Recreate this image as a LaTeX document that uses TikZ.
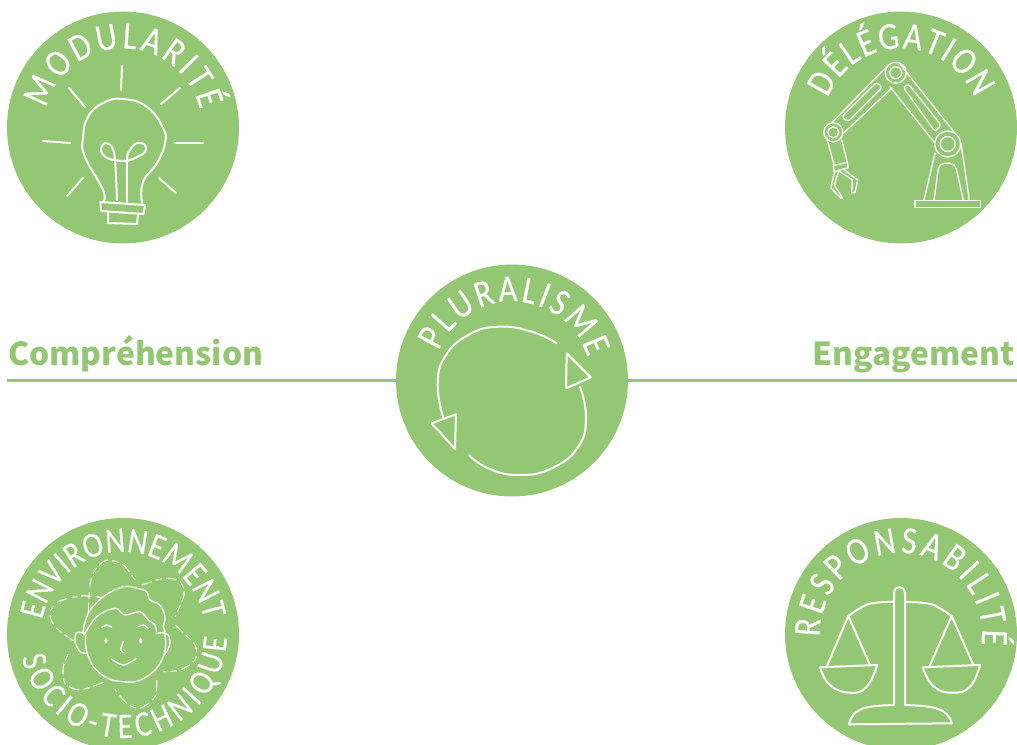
\documentclass[tikz,border=0pt]{standalone}
\usepackage{fontspec}
\usetikzlibrary{decorations.text}
\newfontfamily\Sfontfamily[FakeStretch=0.85,FakeBold=0.1]{Carlito}
\newfontfamily\Lfontfamily{Noto Sans CJK SC}
\definecolor{stampgreen}{HTML}{94C773}
\newcommand{\Sfont}{\Sfontfamily\fontsize{29}{29}\selectfont}
\newcommand{\Sfontsm}{\Sfontfamily\fontsize{27}{27}\selectfont}
% lettering on a circle round a stamp
\newcommand{\Sarc}[5]{\path[decorate,decoration={text along path,text align=fit to path,text color=white,text={#5}}] (#1.center) ++(#3:#2) arc[start angle=#3,end angle=#4,radius=#2];}
\tikzset{
  stamp/.style={circle,fill=stampgreen,minimum size=174pt,inner sep=0pt},
  axisline/.style={draw=stampgreen,line width=2.2pt},
  axislabel/.style={text=stampgreen,font=\Lfontfamily\bfseries\fontsize{23.8}{24}\selectfont,inner sep=0pt},
  icon/.style={draw=white,line width=1.5pt,line join=round,line cap=round},
  thinicon/.style={draw=white,line width=1pt,line join=round,line cap=round},
  petal/.style={draw=white,line width=0.8pt,dash pattern=on 8pt off 3pt on 5pt off 3pt}
}
\begin{document}
\begin{tikzpicture}[x=0.75pt,y=0.75pt]
\useasboundingbox (0,0) rectangle (1017,744);
\clip (0,0) rectangle (1017,744);
\begin{scope}[shift={(0,744)},yscale=-1]
\node (modularite) [stamp] at (123,127.5) {};
\node (delegation) [stamp] at (901,127.5) {};
\node (environnement) [stamp] at (123,634) {};
\node (responsabilite) [stamp] at (901,634) {};
\node (pluralisme) [stamp] at (512,380.5) {};
\coordinate (axisleft) at (7,380.5);
\coordinate (axisright) at (1017,380.5);
\path[axisline] (axisleft) edge (pluralisme);
\path[axisline] (pluralisme) edge (axisright);
\node (comprehension) [axislabel,anchor=base west] at (8,365) {Compréhension};
\node (engagement) [axislabel,anchor=base east] at (1015,365) {Engagement};
% bulb
\draw[icon] plot[smooth,tension=.8] coordinates {(103,202) (103,190) (85,157) (83,138) (88,117) (103,103) (123,99) (147,107) (163,128) (165,143) (157,163) (143,182) (142,203)};
\draw[icon] (100.5,202) -- (145,205) -- (143.5,214) -- (101,211) -- cycle;
\draw[icon] (108,213) -- (108,223) -- (137,224) -- (138,215);
\draw[icon] plot[smooth,tension=.6] coordinates {(117,200) (115,160) (112,147) (105,143) (101,150) (107,158) (123,161) (133,159) (145,152) (145,145) (137,143) (130,150) (127,160) (127,202)};
\draw[icon] (122,66) -- (121,90);
\draw[icon] (69,88) -- (85,107);
\draw[icon] (180,88) -- (161,104);
\draw[icon] (43,141) -- (70,143);
\draw[icon] (175,143) -- (203,143);
\draw[icon] (83,178) -- (67,196);
\draw[icon] (159,178) -- (176,193);
% robot arm
\draw[thinicon] (895.7,72.7) circle[radius=10.5] (895.7,72.7) circle[radius=6];
\draw[thinicon] (833.3,132.3) circle[radius=9.5] (833.3,132.3) circle[radius=5.5];
\draw[thinicon] (947.7,144) circle[radius=13] (947.7,144) circle[radius=7.5];
\draw[thinicon] (831.7,122.7) -- (886.7,66.7) (843.3,133.3) -- (891.7,88.3);
\draw[thinicon,rounded corners=2] (841.7,116.7) -- (876.7,82.3) -- (882.3,87.3) -- (847.7,121.7) -- cycle;
\draw[thinicon] (900,64) -- (955,133.3) (890,86.7) -- (935,143.3);
\draw[thinicon,rounded corners=2] (903.3,87.3) -- (908.3,84) -- (941,125) -- (935,131.7) -- cycle;
\draw[thinicon] (935,153.3) -- (924,200) (961,143.3) -- (969.3,200);
\draw[thinicon,rounded corners=4] (934,200) -- (939,163.3) -- (955,163.3) -- (963.3,200);
\draw[thinicon] (915,200.7) rectangle (980.7,207.3);
\draw[thinicon] (826.7,137.7) -- (834.3,165.7) (841.7,140) -- (847.3,162.3);
\draw[thinicon] (833.3,165.7) -- (847.3,162.3) -- (848.3,167.7) -- (834.3,171.7) -- cycle;
\draw[thinicon] (835,170.7) -- (830.7,187.7) -- (841,198.3) -- (842.3,197.7) -- (834.3,185) -- (839,170);
\draw[thinicon] (843.3,169.3) -- (857.7,180) -- (855,192.7) -- (851.7,192.7) -- (852.3,180) -- (840,171.7);
% scales
\draw[icon] (894,705) -- (894,593.3) .. controls (894,585) and (905,585) .. (905,593.3) -- (905,705);
\draw[icon] plot[smooth] coordinates {(894,601.7) (868.3,604) (848.3,616)};
\draw[icon] plot[smooth] coordinates {(905,601.7) (931.7,604.3) (951.7,616)};
\draw[icon] (826.7,666.7) -- (848.3,616) -- (870,665);
\draw[icon] (929.3,666.7) -- (951.7,616) -- (973.3,665);
\draw[icon] (820,667.3) -- (877.3,665);
\draw[icon] (922.7,667.3) -- (980,665);
\draw[icon] plot[smooth,tension=.8] coordinates {(820,667.3) (830,685) (850,692.7) (866.7,686.7) (877.3,665)};
\draw[icon] plot[smooth,tension=.8] coordinates {(922.7,667.3) (933.3,686) (951.7,692.7) (970,686.7) (980,665)};
\draw[icon] (894,705) .. controls (870,706) and (853,706) .. (849,724.3) -- (951.7,723.3) .. controls (948,707) and (930,706) .. (905,705);
% cycle
\draw[icon] plot[smooth,tension=.8] coordinates {(556.7,343.3) (531.7,331.7) (498.3,326.7) (468.3,335) (445,356.7) (437.7,385) (443.3,418.3)};
\draw[icon] (431.7,423.3) -- (456,414.3) -- (455,449) -- cycle;
\draw[icon] plot[smooth,tension=.8] coordinates {(580,386.7) (586,416.7) (578.3,446.7) (551.7,468.3) (518.3,475) (488.3,468.3) (469,455)};
\draw[icon] (566.7,353.3) -- (590.7,377.3) -- (566,388.3) -- cycle;
% face
\draw[thinicon] plot[smooth,tension=.8] coordinates {(86,635) (87.3,653.3) (100,673.3) (123.3,681.7) (146.7,676.7) (163.3,656.7) (165,635)};
\draw[thinicon] plot[smooth,tension=.6] coordinates {(82.7,633.3) (88.3,613.3) (103.3,596.7) (123.3,586.7) (136.7,588.3) (146.7,591.7) (150,600) (160,605) (165,616.7) (163.3,626.7) (165,631.7) (158,633)};
\draw[thinicon] plot[smooth,tension=.6] coordinates {(84,635) (96.7,616.7) (115,608.3) (125,615) (140,611.7) (148.3,620) (155,625) (156.7,634)};
\draw[thinicon] plot[smooth] coordinates {(85,633.3) (76.7,632.7) (75,641.7) (80,651.7) (86.7,653.3)};
\draw[thinicon] plot[smooth] coordinates {(163.3,633.3) (168.3,635) (170,643.3) (166.7,651.7) (163.3,655)};
\draw[thinicon] plot[smooth] coordinates {(101.7,627.3) (106.7,625) (111.7,627.3)};
\draw[thinicon] plot[smooth] coordinates {(138.3,626.7) (143.3,625) (148.3,628.3)};
\fill[white] (106,640.7) ellipse[x radius=1.6,y radius=2.5];
\fill[white] (140.7,640.7) ellipse[x radius=1.6,y radius=2.5];
\draw[thinicon] plot[smooth] coordinates {(123.3,641.7) (120.7,650) (124,652.7)};
\draw[thinicon] plot[smooth] coordinates {(111.7,659.3) (123.3,665) (136.7,658.3)};
\draw[petal] plot[smooth] coordinates {(88.3,613.3) (90,585) (95,570) (106.7,560) (123.3,565) (135,580)};
\draw[petal] plot[smooth] coordinates {(141.7,585) (165,578.3) (180,581.7) (184,595) (175,616.7)};
\draw[petal] plot[smooth] coordinates {(175,625) (195,645) (195,660) (180,670) (163.3,671.7)};
\draw[petal] plot[smooth] coordinates {(156.7,680) (155,696.7) (140,708.3) (126.7,703.3) (115,689.3)};
\draw[petal] plot[smooth] coordinates {(103.3,682.3) (80,690) (65,683.3) (63.3,666.7) (69.3,651.7)};
\draw[petal] plot[smooth] coordinates {(73.3,640.7) (55,626.7) (50,613.3) (58.3,601.7) (81.7,596) (103.3,597.7)};
\end{scope}
% lettering
\Sarc{modularite}{79}{166}{13}{|\Sfont|MODULARITÉ}
\Sarc{delegation}{79}{158}{22}{|\Sfont|DÉLÉGATION}
\Sarc{pluralisme}{79}{158}{17}{|\Sfont|PLURALISME}
\Sarc{responsabilite}{81}{182}{-8}{|\Sfont|RESPONSABILITÉ}
\Sarc{environnement}{82}{170}{10}{|\Sfontsm|ENVIRONNEMENT}
\Sarc{environnement}{104}{193}{358}{|\Sfontsm|SOCIO-TECHNIQUE}
\end{tikzpicture}
\end{document}
